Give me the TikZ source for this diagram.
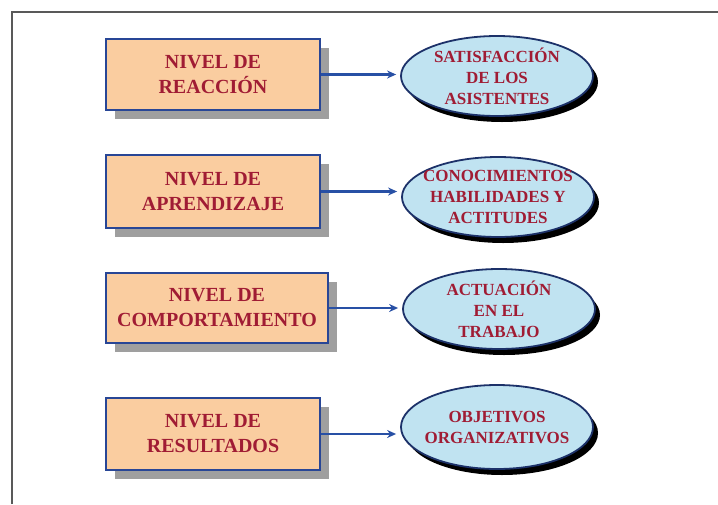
\documentclass[tikz,border=0pt]{standalone}
\usepackage{fontspec}
\setmainfont{Liberation Serif}
\usepackage{tikz}
\usetikzlibrary{arrows.meta,shapes.geometric,shadows}
\definecolor{boxfill}{RGB}{250,205,160}
\definecolor{boxline}{RGB}{40,70,150}
\definecolor{textred}{RGB}{160,28,52}
\definecolor{ellfill}{RGB}{192,227,241}
\definecolor{arrowblue}{RGB}{40,80,165}

\begin{document}
\begin{tikzpicture}[x=1pt,y=-1pt,
  nivel/.style={rectangle,draw=boxline,line width=2.4pt,fill=boxfill,
    minimum width=214pt,minimum height=71pt,inner sep=0pt,align=center,
    text=textred,font=\fontsize{20}{25}\selectfont\bfseries,
    drop shadow={shadow xshift=9pt,shadow yshift=-9pt,fill=gray!75,opacity=1}},
  efecto/.style={ellipse,draw=boxline!70!black,line width=1.8pt,fill=ellfill,
    minimum width=192pt,minimum height=80pt,inner xsep=-20pt,inner ysep=-12pt,
    align=center,text=textred,font=\fontsize{17}{21}\selectfont\bfseries,
    drop shadow={shadow xshift=5pt,shadow yshift=-6pt,fill=black,opacity=1}},
  flecha/.style={draw=arrowblue,line width=2.6pt,
    -{Stealth[length=9pt,width=8pt]},shorten >=4pt}]
\useasboundingbox (0,0) rectangle (718,504);
\draw[gray!70!black,line width=1.3pt] (12,504) -- (12,12) -- (718,12);

\node[nivel] (b1) at (213,74.5) {NIVEL DE\\REACCIÓN};
\node[nivel,minimum height=73pt] (b2) at (213,191.5) {NIVEL DE\\APRENDIZAJE};
\node[nivel,minimum width=222pt,minimum height=70pt] (b3) at (217,308) {NIVEL DE\\COMPORTAMIENTO};
\node[nivel,minimum height=72pt] (b4) at (213,434) {NIVEL DE\\RESULTADOS};

\node[efecto] (e1) at (497,76) {SATISFACCIÓN\\DE LOS\\ASISTENTES};
\node[efecto] (e2) at (498,197) {CONOCIMIENTOS\\HABILIDADES Y\\ACTITUDES};
\node[efecto] (e3) at (499,309) {ACTUACIÓN\\EN EL\\TRABAJO};
\node[efecto,minimum height=84pt] (e4) at (497,427) {OBJETIVOS\\ORGANIZATIVOS};

\draw[flecha] (b1.east) -- (b1.east -| e1.west);
\draw[flecha] (b2.east) -- (b2.east -| e2.west);
\draw[flecha] (b3.east) -- (b3.east -| e3.west);
\draw[flecha] (b4.east) -- (b4.east -| e4.west);
\end{tikzpicture}
\end{document}
